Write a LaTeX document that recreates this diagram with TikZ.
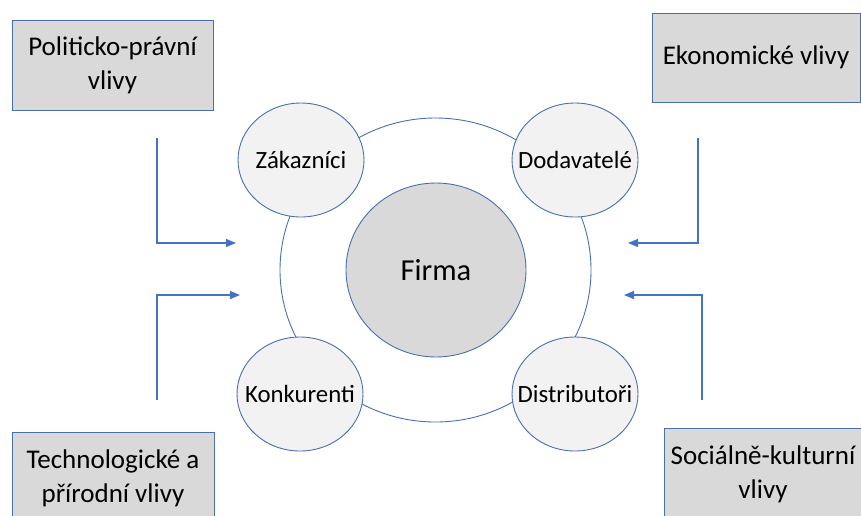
\documentclass[tikz,border=0pt]{standalone}
\usepackage{fontspec}
\setmainfont{Carlito}
\usetikzlibrary{shapes.geometric,arrows.meta}
\definecolor{bord}{HTML}{4A6FAE}
\definecolor{arrc}{HTML}{4472C4}
\definecolor{boxfill}{HTML}{D9D9D9}
\definecolor{cfill}{HTML}{F2F2F2}
\newcommand{\zw}[1]{\makebox[0pt]{#1}}
\begin{document}
\begin{tikzpicture}[x=1pt,y=-1pt,
  infbox/.style={draw=bord, line width=0.9pt, fill=boxfill, inner sep=0pt, align=center,
     font=\fontsize{27}{34}\selectfont},
  sat/.style={ellipse, draw=bord, line width=0.9pt, fill=cfill, inner sep=0pt,
     minimum width=126pt, minimum height=114pt, font=\fontsize{24.8}{30}\selectfont},
  arr/.style={draw=arrc, line width=1.2pt, -{Triangle[length=10pt,width=8pt]}}]
\useasboundingbox (0,0) rectangle (861,515);
% outer ring
\node[ellipse, draw=bord, line width=0.9pt, minimum width=311pt, minimum height=304pt, inner sep=0pt] (ring) at (435.5,270) {};
% firm
\node[ellipse, draw=bord, line width=0.9pt, fill=boxfill, minimum width=180pt, minimum height=174pt, inner sep=0pt,
  font=\fontsize{30.5}{36}\selectfont] (firma) at (436,270) {\zw{Firma}};
% satellites
\node[sat] (zak) at (301,160) {\zw{Zákazníci}};
\node[sat] (dod) at (575,160) {\zw{Dodavatelé}};
\node[sat] (kon) at (300,394) {\zw{Konkurenti}};
\node[sat] (dis) at (575,394) {\zw{Distributoři}};
% boxes
\node[infbox, minimum width=201pt, minimum height=90pt] (pol) at (112.5,65) {Politicko-právní\\vlivy};
\node[infbox, minimum width=208pt, minimum height=89pt] (eko) at (756,57.5) {Ekonomické vlivy};
\node[infbox, minimum width=202pt, minimum height=92pt] (tec) at (113,478) {Technologické a\\přírodní vlivy};
\node[infbox, minimum width=198pt, minimum height=92pt] (soc) at (763,474) {Sociálně-kulturní\\vlivy};
% arrow coordinates
\coordinate (a1s) at (157,138);
\coordinate (a1e) at (236,243);
\coordinate (a2s) at (157,400);
\coordinate (a2e) at (240,295);
\coordinate (a3s) at (698,138);
\coordinate (a3e) at (628,243);
\coordinate (a4s) at (702,400);
\coordinate (a4e) at (624,295);
\draw[arr] (a1s) |- (a1e);
\draw[arr] (a2s) |- (a2e);
\draw[arr] (a3s) |- (a3e);
\draw[arr] (a4s) |- (a4e);
\end{tikzpicture}
\end{document}
